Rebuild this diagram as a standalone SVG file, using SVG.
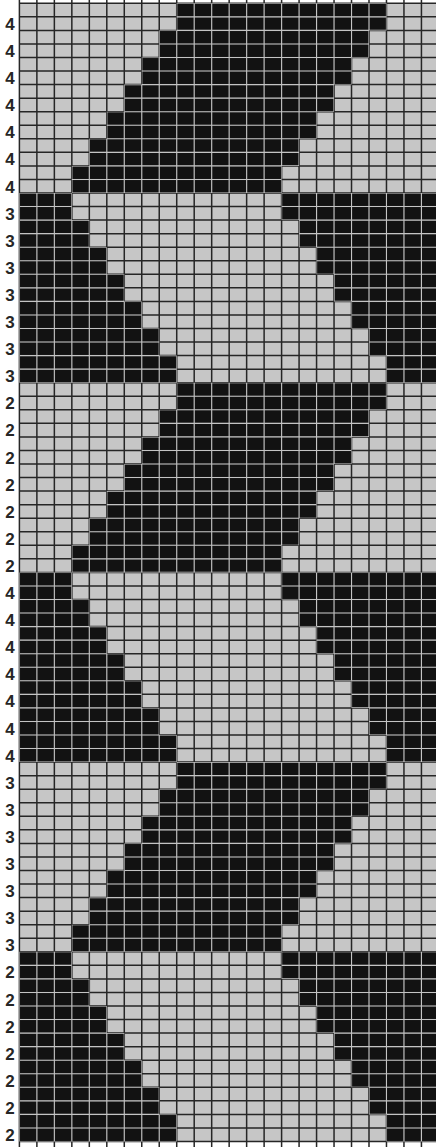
<svg xmlns="http://www.w3.org/2000/svg" xmlns:xlink="http://www.w3.org/1999/xlink" width="436" height="1147" viewBox="0 0 436 1147">
<style>
.lbl{font-family:"Liberation Sans",Arial,sans-serif;font-size:17px;font-weight:bold;fill:#262626;text-anchor:middle}
</style>
<defs>
<path id="dark" d="M176.72,3.3 H386.48 v27.1 H369 v27.1 H351.52 v27.1 H334.04 v27.1 H316.56 v27.1 H299.08 v27.1 H281.6 v27.1 H71.84 v-27.1 H89.32 v-27.1 H106.8 v-27.1 H124.28 v-27.1 H141.76 v-27.1 H159.24 v-27.1 H176.72 Z
M176.72,382.7 H386.48 v27.1 H369 v27.1 H351.52 v27.1 H334.04 v27.1 H316.56 v27.1 H299.08 v27.1 H281.6 v27.1 H71.84 v-27.1 H89.32 v-27.1 H106.8 v-27.1 H124.28 v-27.1 H141.76 v-27.1 H159.24 v-27.1 H176.72 Z
M176.72,762.1 H386.48 v27.1 H369 v27.1 H351.52 v27.1 H334.04 v27.1 H316.56 v27.1 H299.08 v27.1 H281.6 v27.1 H71.84 v-27.1 H89.32 v-27.1 H106.8 v-27.1 H124.28 v-27.1 H141.76 v-27.1 H159.24 v-27.1 H176.72 Z
M19.4,193 H71.84 v27.1 H89.32 v27.1 H106.8 v27.1 H124.28 v27.1 H141.76 v27.1 H159.24 v27.1 H176.72 v27.1 H19.4 Z
M281.6,193 H440 V382.7 H386.48 v-27.1 H369 v-27.1 H351.52 v-27.1 H334.04 v-27.1 H316.56 v-27.1 H299.08 v-27.1 H281.6 Z
M19.4,572.4 H71.84 v27.1 H89.32 v27.1 H106.8 v27.1 H124.28 v27.1 H141.76 v27.1 H159.24 v27.1 H176.72 v27.1 H19.4 Z
M281.6,572.4 H440 V762.1 H386.48 v-27.1 H369 v-27.1 H351.52 v-27.1 H334.04 v-27.1 H316.56 v-27.1 H299.08 v-27.1 H281.6 Z
M19.4,951.8 H71.84 v27.1 H89.32 v27.1 H106.8 v27.1 H124.28 v27.1 H141.76 v27.1 H159.24 v27.1 H176.72 v27.1 H19.4 Z
M281.6,951.8 H440 V1141.5 H386.48 v-27.1 H369 v-27.1 H351.52 v-27.1 H334.04 v-27.1 H316.56 v-27.1 H299.08 v-27.1 H281.6 Z"/>
<path id="grid" d="M19.4 0V1147M36.88 0V1147M54.36 0V1147M71.84 0V1147M89.32 0V1147M106.8 0V1147M124.28 0V1147M141.76 0V1147M159.24 0V1147M176.72 0V1147M194.2 0V1147M211.68 0V1147M229.16 0V1147M246.64 0V1147M264.12 0V1147M281.6 0V1147M299.08 0V1147M316.56 0V1147M334.04 0V1147M351.52 0V1147M369 0V1147M386.48 0V1147M403.96 0V1147M421.44 0V1147
M19.4 3.3H436M19.4 16.85H436M19.4 30.4H436M19.4 43.95H436M19.4 57.5H436M19.4 71.05H436M19.4 84.6H436M19.4 98.15H436M19.4 111.7H436M19.4 125.25H436M19.4 138.8H436M19.4 152.35H436M19.4 165.9H436M19.4 179.45H436
M19.4 193H436M19.4 206.55H436M19.4 220.1H436M19.4 233.65H436M19.4 247.2H436M19.4 260.75H436M19.4 274.3H436M19.4 287.85H436M19.4 301.4H436M19.4 314.95H436M19.4 328.5H436M19.4 342.05H436M19.4 355.6H436M19.4 369.15H436
M19.4 382.7H436M19.4 396.25H436M19.4 409.8H436M19.4 423.35H436M19.4 436.9H436M19.4 450.45H436M19.4 464H436M19.4 477.55H436M19.4 491.1H436M19.4 504.65H436M19.4 518.2H436M19.4 531.75H436M19.4 545.3H436M19.4 558.85H436
M19.4 572.4H436M19.4 585.95H436M19.4 599.5H436M19.4 613.05H436M19.4 626.6H436M19.4 640.15H436M19.4 653.7H436M19.4 667.25H436M19.4 680.8H436M19.4 694.35H436M19.4 707.9H436M19.4 721.45H436M19.4 735H436M19.4 748.55H436
M19.4 762.1H436M19.4 775.65H436M19.4 789.2H436M19.4 802.75H436M19.4 816.3H436M19.4 829.85H436M19.4 843.4H436M19.4 856.95H436M19.4 870.5H436M19.4 884.05H436M19.4 897.6H436M19.4 911.15H436M19.4 924.7H436M19.4 938.25H436
M19.4 951.8H436M19.4 965.35H436M19.4 978.9H436M19.4 992.45H436M19.4 1006H436M19.4 1019.55H436M19.4 1033.1H436M19.4 1046.65H436M19.4 1060.2H436M19.4 1073.75H436M19.4 1087.3H436M19.4 1100.85H436M19.4 1114.4H436M19.4 1127.95H436M19.4 1141.5H436"/>
<clipPath id="darkClip"><use xlink:href="#dark" href="#dark"/></clipPath>
</defs>
<rect x="0" y="0" width="436" height="1147" fill="#ffffff"/>
<g id="chart">
<rect x="19.4" y="3.3" width="420" height="1138.2" fill="#c6c6c6"/>
<use xlink:href="#dark" href="#dark" fill="#121212"/>
<use xlink:href="#grid" href="#grid" fill="none" stroke="#262626" stroke-width="1.5"/>
<g clip-path="url(#darkClip)"><use xlink:href="#grid" href="#grid" fill="none" stroke="#c4c4c4" stroke-width="1.1"/></g>
</g>
<g id="row-labels">
<text class="lbl" x="10" y="29.9">4</text><text class="lbl" x="10" y="57">4</text><text class="lbl" x="10" y="84.1">4</text><text class="lbl" x="10" y="111.2">4</text><text class="lbl" x="10" y="138.3">4</text><text class="lbl" x="10" y="165.4">4</text><text class="lbl" x="10" y="192.5">4</text>
<text class="lbl" x="10" y="219.6">3</text><text class="lbl" x="10" y="246.7">3</text><text class="lbl" x="10" y="273.8">3</text><text class="lbl" x="10" y="300.9">3</text><text class="lbl" x="10" y="328">3</text><text class="lbl" x="10" y="355.1">3</text><text class="lbl" x="10" y="382.2">3</text>
<text class="lbl" x="10" y="409.3">2</text><text class="lbl" x="10" y="436.4">2</text><text class="lbl" x="10" y="463.5">2</text><text class="lbl" x="10" y="490.6">2</text><text class="lbl" x="10" y="517.7">2</text><text class="lbl" x="10" y="544.8">2</text><text class="lbl" x="10" y="571.9">2</text>
<text class="lbl" x="10" y="599">4</text><text class="lbl" x="10" y="626.1">4</text><text class="lbl" x="10" y="653.2">4</text><text class="lbl" x="10" y="680.3">4</text><text class="lbl" x="10" y="707.4">4</text><text class="lbl" x="10" y="734.5">4</text><text class="lbl" x="10" y="761.6">4</text>
<text class="lbl" x="10" y="788.7">3</text><text class="lbl" x="10" y="815.8">3</text><text class="lbl" x="10" y="842.9">3</text><text class="lbl" x="10" y="870">3</text><text class="lbl" x="10" y="897.1">3</text><text class="lbl" x="10" y="924.2">3</text><text class="lbl" x="10" y="951.3">3</text>
<text class="lbl" x="10" y="978.4">2</text><text class="lbl" x="10" y="1005.5">2</text><text class="lbl" x="10" y="1032.6">2</text><text class="lbl" x="10" y="1059.7">2</text><text class="lbl" x="10" y="1086.8">2</text><text class="lbl" x="10" y="1113.9">2</text><text class="lbl" x="10" y="1141">2</text>
</g>
</svg>
